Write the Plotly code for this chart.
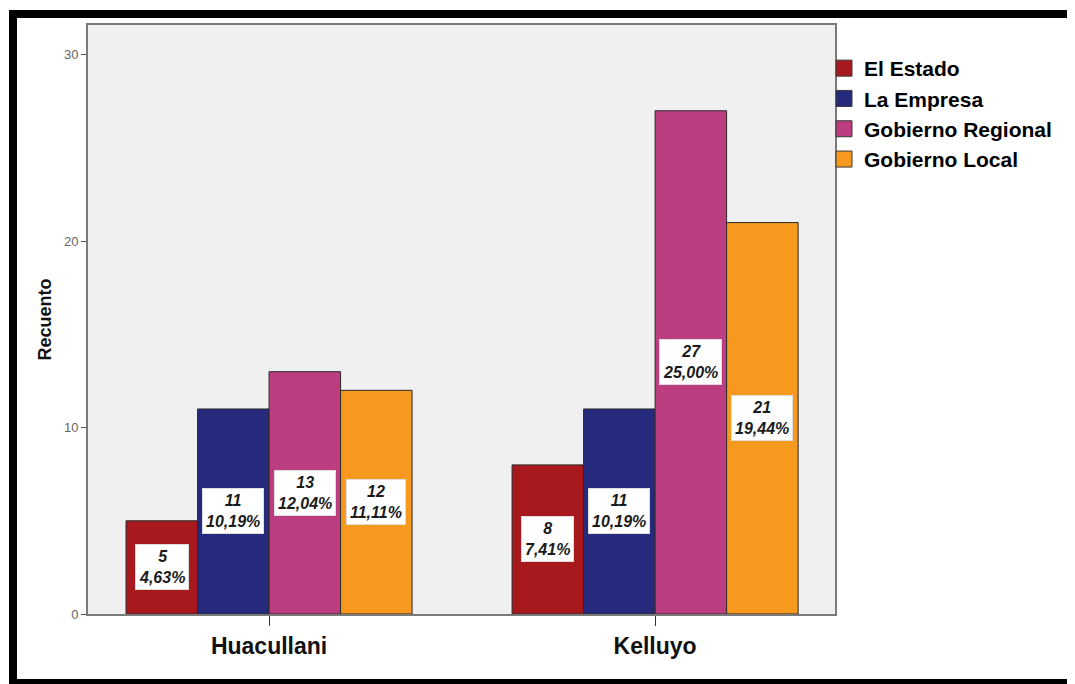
import plotly.graph_objects as go

categories = ["Huacullani", "Kelluyo"]
series_names = ["El Estado", "La Empresa", "Gobierno Regional", "Gobierno Local"]
counts = {
    "El Estado": [5, 8],
    "La Empresa": [11, 11],
    "Gobierno Regional": [13, 27],
    "Gobierno Local": [12, 21],
}
percents = {
    "El Estado": ["4,63%", "7,41%"],
    "La Empresa": ["10,19%", "10,19%"],
    "Gobierno Regional": ["12,04%", "25,00%"],
    "Gobierno Local": ["11,11%", "19,44%"],
}
colors = ["#A8191E", "#262A7C", "#BC3D80", "#F6991E"]
y_ticks = [0, 10, 20, 30]

# page body has an 8px margin, so the figure is a bit smaller than the window
W, H = 1067, 676
L, R, T, B = 80, 240, 17, 70
pw = W - L - R
ph = H - T - B

bargap = 0.259
group_w = 1 - bargap
bar_w = group_w / len(series_names)

fig = go.Figure()
for i, name in enumerate(series_names):
    fig.add_trace(go.Bar(
        name=name, x=categories, y=counts[name], showlegend=False,
        marker=dict(color=colors[i], line=dict(color="#2a2a2a", width=1)),
    ))
    for ci, cat in enumerate(categories):
        v = counts[name][ci]
        fig.add_annotation(
            x=ci - group_w / 2 + bar_w * (i + 0.5), y=v / 2,
            xref="x", yref="y",
            text=f"{v}<br>{percents[name][ci]}",
            showarrow=False,
            font=dict(family="Liberation Sans, Arial", size=16, color="#1a1a1a",
                      weight="bold", style="italic"),
            bgcolor="white", bordercolor="#dddddd", borderwidth=1, borderpad=3,
        )

# legend entries (square swatches)
for i, name in enumerate(series_names):
    fig.add_trace(go.Scatter(
        name=name, x=[None], y=[None], mode="markers",
        marker=dict(symbol="square", size=16, color=colors[i],
                    line=dict(color="#3a3a3a", width=1)),
        showlegend=True, hoverinfo="skip",
    ))

def px_x(px):
    return (px - L) / pw

def px_y(py):
    return (H - B - py) / ph

# outer black frame
fig.add_shape(type="rect", xref="paper", yref="paper",
              x0=px_x(5), x1=px_x(1080), y0=px_y(675), y1=px_y(6),
              line=dict(color="black", width=8), fillcolor="rgba(0,0,0,0)", layer="below")

fig.update_layout(
    width=W, height=H,
    margin=dict(l=L, r=R, t=T, b=B, pad=0),
    paper_bgcolor="white", plot_bgcolor="#F0F0F0",
    barmode="group", bargap=bargap, bargroupgap=0,
    font=dict(family="Liberation Sans, Arial", color="black"),
    legend=dict(
        x=px_x(816), xanchor="left", y=px_y(40), yanchor="top",
        font=dict(size=21, weight="bold", color="black"),
        bgcolor="rgba(0,0,0,0)", itemwidth=30, tracegroupgap=0,
        itemsizing="trace",
    ),
    showlegend=True,
    xaxis=dict(
        type="category", range=[-0.469, 1.466],
        showline=True, linecolor="#7a7a7a", linewidth=2, mirror=True,
        ticks="outside", ticklen=10, tickcolor="#333333", tickwidth=1,
        tickfont=dict(size=23, weight="bold", color="#111111"),
        showgrid=False,
    ),
    yaxis=dict(
        range=[0, 31.6], tickvals=y_ticks,
        showline=True, linecolor="#7a7a7a", linewidth=2, mirror=True,
        ticks="outside", ticklen=5, tickcolor="#555555",
        tickfont=dict(size=13, color="#666666"),
        showgrid=False, zeroline=False,
        title=dict(text="Recuento", font=dict(size=18, weight="bold", color="#111111"), standoff=8),
    ),
)

fig.write_html("out.html")
